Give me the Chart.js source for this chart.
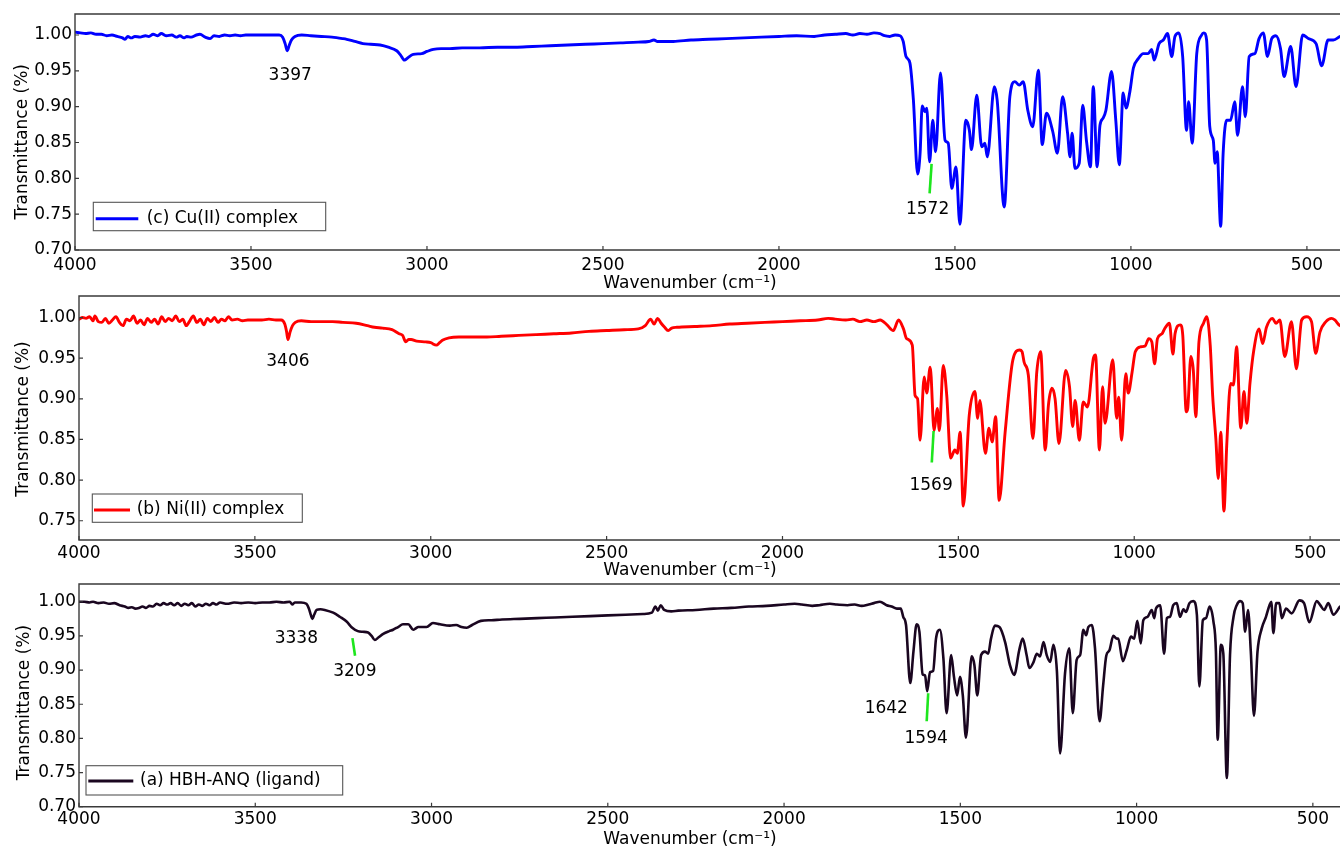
<!DOCTYPE html>
<html>
<head>
<meta charset="utf-8">
<title>FT-IR spectra</title>
<script src="https://cdn.jsdelivr.net/npm/chart.js@4.4.1/dist/chart.umd.min.js"></script>
<style>
  html, body { margin: 0; padding: 0; background: #ffffff; overflow: hidden; }
  #wrap { position: relative; width: 1340px; height: 850px; }
  #wrap canvas { position: absolute; left: 0; top: 0; }
</style>
</head>
<body>
<div id="wrap">
  <canvas id="cu" width="1340" height="850"></canvas>
  <canvas id="ni" width="1340" height="850"></canvas>
  <canvas id="lig" width="1340" height="850"></canvas>
</div>
<script>
// ---------- spectra: wavenumber (cm-1) and transmittance ----------
const cuWavenumber = [4000,3985,3970,3955,3940,3925,3910,3895,3880,3865,3858,3850,3840,3830,3815,3800,3790,3778,3765,3755,3740,3725,3712,3702,3690,3682,3670,3655,3645,3630,3616,3605,3590,3575,3560,3545,3530,3515,3500,3480,3460,3440,3420,3410,3403,3397,3391,3385,3375,3356,3330,3300,3270,3240,3228,3205,3182,3160,3133,3110,3086,3075,3064,3055,3039,3015,3000,2982,2960,2935,2900,2850,2800,2750,2700,2650,2600,2550,2500,2450,2400,2370,2355,2345,2320,2300,2250,2200,2150,2100,2050,2000,1950,1900,1870,1840,1810,1790,1770,1750,1730,1713,1700,1685,1670,1656,1647,1639,1628,1618,1606,1599,1593,1585,1580,1572,1563,1555,1541,1528,1519,1509,1497,1486,1469,1459,1453,1438,1424,1415,1408,1388,1380,1360,1344,1330,1317,1306,1293,1279,1263,1252,1240,1222,1209,1194,1180,1173,1167,1159,1147,1137,1126,1115,1107,1096,1088,1079,1071,1055,1043,1033,1022,1014,1003,993,979,965,951,941,934,920,908,896,884,875,864,853,842,836,826,813,799,793,785,776,766,761,755,745,738,728,717,705,697,683,675,664,648,636,624,612,600,588,575,565,546,531,512,496,474,458,440,425,406];
const cuTransmittance = [1.004,1.003,1.002,1.003,1.001,1.001,0.999,1.000,0.998,0.996,0.994,0.998,0.996,0.998,0.997,0.999,0.998,1.001,0.999,1.002,0.999,1.000,0.997,0.999,0.996,0.998,0.997,1.000,1.001,0.997,0.995,0.999,0.998,1.000,0.999,1.000,0.999,1.000,1.000,1.000,1.000,1.000,1.000,0.997,0.988,0.978,0.986,0.993,0.998,1.000,0.999,0.998,0.997,0.995,0.994,0.991,0.988,0.987,0.986,0.983,0.978,0.972,0.965,0.968,0.973,0.974,0.977,0.980,0.981,0.981,0.982,0.982,0.983,0.983,0.984,0.985,0.986,0.987,0.988,0.989,0.990,0.991,0.993,0.991,0.991,0.991,0.993,0.994,0.995,0.996,0.997,0.998,0.999,0.998,1.000,1.001,1.002,1.000,1.002,1.001,1.003,1.002,0.999,0.998,1.000,0.999,0.991,0.970,0.961,0.909,0.806,0.835,0.901,0.893,0.898,0.823,0.881,0.837,0.947,0.853,0.849,0.786,0.816,0.736,0.881,0.867,0.840,0.916,0.844,0.849,0.830,0.928,0.909,0.760,0.914,0.935,0.930,0.935,0.895,0.872,0.951,0.847,0.891,0.865,0.835,0.914,0.863,0.830,0.863,0.814,0.821,0.902,0.851,0.816,0.928,0.816,0.874,0.884,0.895,0.949,0.881,0.819,0.919,0.898,0.921,0.954,0.967,0.974,0.974,0.980,0.965,0.988,0.993,1.002,0.970,0.998,1.003,0.970,0.867,0.907,0.849,0.974,1.000,1.003,0.993,0.872,0.853,0.821,0.837,0.733,0.835,0.881,0.881,0.907,0.860,0.928,0.886,0.970,0.974,0.995,1.003,0.970,0.995,0.999,0.981,0.942,0.984,0.928,1.000,0.995,0.988,0.957,0.993,0.993,0.998];

const niWavenumber = [4000,3990,3980,3970,3960,3955,3945,3935,3925,3915,3905,3895,3885,3875,3865,3855,3845,3835,3825,3815,3805,3795,3785,3775,3765,3755,3745,3735,3725,3715,3705,3695,3685,3675,3665,3655,3645,3635,3625,3615,3605,3595,3585,3575,3565,3550,3535,3520,3500,3480,3460,3440,3425,3415,3410,3406,3400,3393,3385,3368,3340,3310,3279,3250,3212,3180,3160,3137,3110,3090,3080,3071,3063,3056,3040,3014,3000,2984,2975,2967,2948,2920,2880,2840,2800,2750,2700,2650,2600,2550,2500,2450,2410,2390,2375,2365,2355,2345,2335,2325,2315,2300,2250,2200,2150,2100,2050,2000,1950,1900,1870,1850,1820,1800,1780,1760,1740,1722,1703,1685,1670,1656,1647,1631,1623,1616,1609,1597,1590,1580,1569,1564,1560,1554,1543,1533,1522,1510,1503,1495,1486,1469,1453,1445,1439,1423,1413,1404,1394,1384,1367,1345,1326,1319,1313,1301,1288,1277,1266,1253,1244,1234,1225,1214,1195,1184,1175,1168,1156,1145,1133,1116,1110,1099,1090,1083,1061,1050,1044,1036,1024,1017,1006,997,981,969,959,950,942,934,921,914,900,890,884,869,862,852,848,839,832,825,816,803,794,784,777,768,761,754,745,737,726,718,709,697,688,680,671,660,645,635,624,607,597,586,572,553,539,524,510,496,484,472,455,439,430,418,415];
const niTransmittance = [0.998,1.000,0.999,1.001,0.996,1.002,0.995,0.994,0.999,0.993,0.997,1.001,0.994,0.990,0.998,0.996,1.002,0.993,0.997,0.991,0.999,0.994,0.998,0.992,1.001,0.995,0.999,0.996,1.002,0.995,0.998,0.990,0.996,1.002,0.994,0.998,0.991,0.999,0.995,1.000,0.994,0.998,0.996,1.001,0.997,0.998,0.996,0.997,0.997,0.997,0.998,0.997,0.997,0.992,0.983,0.973,0.982,0.990,0.994,0.996,0.995,0.995,0.995,0.994,0.993,0.990,0.988,0.987,0.985,0.980,0.978,0.970,0.973,0.973,0.971,0.970,0.969,0.966,0.969,0.972,0.975,0.976,0.976,0.976,0.977,0.978,0.979,0.980,0.981,0.983,0.984,0.985,0.986,0.990,0.998,0.992,0.999,0.993,0.988,0.984,0.987,0.988,0.989,0.990,0.992,0.993,0.994,0.995,0.996,0.997,0.999,0.998,0.997,0.998,0.995,0.997,0.995,0.997,0.991,0.984,0.997,0.986,0.974,0.966,0.904,0.900,0.849,0.927,0.907,0.939,0.861,0.876,0.888,0.861,0.941,0.904,0.827,0.837,0.833,0.859,0.768,0.880,0.909,0.876,0.898,0.833,0.864,0.847,0.878,0.775,0.859,0.948,0.960,0.958,0.945,0.929,0.851,0.933,0.958,0.837,0.892,0.913,0.900,0.845,0.935,0.915,0.866,0.898,0.849,0.896,0.890,0.950,0.954,0.837,0.915,0.870,0.948,0.876,0.902,0.849,0.931,0.907,0.933,0.958,0.964,0.965,0.974,0.970,0.943,0.974,0.980,0.986,0.993,0.955,0.980,0.991,0.978,0.884,0.888,0.952,0.935,0.878,0.970,0.993,1.001,0.966,0.904,0.851,0.802,0.859,0.762,0.843,0.919,0.917,0.964,0.864,0.909,0.870,0.919,0.960,0.986,0.968,0.988,0.999,0.993,0.997,0.952,0.995,0.937,0.997,1.001,0.995,0.956,0.982,0.995,0.999,0.997,0.991,0.990];

const ligWavenumber = [4000,3985,3970,3960,3945,3930,3915,3900,3885,3870,3860,3850,3840,3830,3820,3810,3800,3790,3780,3770,3760,3750,3740,3730,3720,3710,3700,3690,3680,3670,3660,3650,3640,3630,3620,3610,3600,3580,3560,3540,3520,3500,3480,3460,3440,3420,3402,3395,3388,3370,3355,3348,3342,3338,3333,3326,3315,3303,3279,3260,3241,3225,3209,3195,3180,3170,3161,3150,3137,3120,3109,3095,3081,3066,3052,3045,3038,3014,2996,2976,2948,2930,2915,2900,2885,2860,2830,2800,2750,2700,2650,2600,2550,2500,2450,2400,2375,2365,2358,2350,2340,2320,2300,2250,2200,2150,2100,2050,2000,1970,1950,1920,1900,1870,1850,1820,1800,1780,1760,1745,1728,1709,1695,1680,1669,1662,1654,1642,1633,1624,1616,1607,1600,1594,1586,1577,1569,1558,1548,1539,1526,1518,1509,1501,1493,1484,1468,1460,1452,1441,1430,1421,1413,1402,1389,1373,1359,1347,1333,1323,1312,1304,1293,1283,1274,1264,1255,1245,1236,1226,1217,1203,1191,1181,1170,1160,1151,1143,1137,1127,1118,1105,1095,1086,1077,1066,1056,1052,1039,1028,1016,1007,998,988,981,969,957,950,945,933,922,914,905,896,886,877,867,860,850,839,829,822,812,803,793,782,775,770,761,754,744,735,725,716,706,699,692,684,676,667,657,645,633,623,618,612,604,595,588,576,560,538,525,510,489,479,468,456,442,423];
const ligTransmittance = [1.000,1.000,0.999,1.000,0.998,0.999,0.997,0.998,0.995,0.993,0.991,0.992,0.990,0.991,0.993,0.991,0.994,0.993,0.997,0.995,0.998,0.996,0.998,0.995,0.998,0.994,0.997,0.995,0.998,0.993,0.996,0.994,0.997,0.995,0.998,0.996,0.999,0.997,0.999,0.998,0.999,0.998,0.999,0.999,1.000,0.999,1.000,0.996,0.999,0.999,0.997,0.990,0.980,0.975,0.981,0.988,0.989,0.988,0.984,0.978,0.971,0.962,0.957,0.956,0.955,0.950,0.944,0.948,0.953,0.957,0.959,0.963,0.967,0.967,0.959,0.961,0.963,0.963,0.969,0.967,0.965,0.966,0.963,0.962,0.966,0.972,0.973,0.974,0.975,0.976,0.977,0.978,0.979,0.980,0.981,0.982,0.984,0.993,0.987,0.995,0.988,0.986,0.987,0.988,0.990,0.991,0.993,0.994,0.996,0.997,0.996,0.994,0.995,0.997,0.996,0.995,0.996,0.994,0.996,0.998,1.000,0.995,0.993,0.990,0.990,0.978,0.966,0.881,0.927,0.967,0.956,0.894,0.892,0.869,0.897,0.899,0.946,0.959,0.917,0.837,0.922,0.890,0.863,0.890,0.863,0.801,0.920,0.907,0.863,0.922,0.927,0.924,0.946,0.965,0.963,0.941,0.907,0.893,0.929,0.946,0.922,0.903,0.911,0.924,0.920,0.941,0.922,0.912,0.937,0.898,0.778,0.895,0.932,0.837,0.915,0.922,0.959,0.951,0.963,0.966,0.932,0.825,0.877,0.921,0.929,0.950,0.946,0.946,0.913,0.929,0.949,0.946,0.972,0.939,0.973,0.978,0.988,0.976,0.990,0.995,0.924,0.976,0.978,0.995,0.998,0.978,0.989,0.985,0.998,1.001,0.981,0.876,0.973,0.976,0.993,0.971,0.927,0.798,0.937,0.924,0.742,0.922,0.978,0.995,1.001,0.998,0.956,0.988,0.927,0.833,0.927,0.961,0.978,0.995,1.000,0.954,0.998,0.998,0.976,0.990,0.983,1.002,0.998,0.970,1.001,0.995,0.988,0.998,0.981,0.993];

// ---------- tick values and labelled bands ----------
const wavenumberTicks = [4000, 3500, 3000, 2500, 2000, 1500, 1000, 500];
const cuTicks = [0.70, 0.75, 0.80, 0.85, 0.90, 0.95, 1.00];
const niTicks = [0.75, 0.80, 0.85, 0.90, 0.95, 1.00];
const ligTicks = [0.70, 0.75, 0.80, 0.85, 0.90, 0.95, 1.00];

const cuBands = [3397, 1572];
const niBands = [3406, 1569];
const ligBands = [3338, 3209, 1642, 1594];

// ---------- drawing setup ----------
const FONT_FAMILY = "'DejaVu Sans', 'Liberation Sans', sans-serif";
const FONT_SIZE = 17;
const FONT = FONT_SIZE + "px " + FONT_FAMILY;
const X_TITLE = "Wavenumber (cm\u207B\u00B9)";
const Y_TITLE = "Transmittance (%)";

const panels = [
  {
    canvas: 'cu', label: '(c) Cu(II) complex', color: '#0000ff', width: 2.9,
    wn: cuWavenumber, t: cuTransmittance, yTicks: cuTicks, bands: cuBands,
    area: { left: 75, top: 14, bottom: 250 }, xMin: 406, yMin: 0.70, yMax: 1.0293, tickPad: 5.5,
    legend: { x: 93.3, y: 202.3, w: 232.4, h: 28.4, lx1: 95.7, lx2: 138.3, ly: 218.7, tx: 146.7 },
    yTitle: { x: 23, y: 141.7 }, xTitle: { x: 690, y: 284 },
    marks: { 3397: { text: [3, 25] }, 1572: { line: [2, 2, 0, 31.5], text: [-2, 48] } }
  },
  {
    canvas: 'ni', label: '(b) Ni(II) complex', color: '#ff0000', width: 2.9,
    wn: niWavenumber, t: niTransmittance, yTicks: niTicks, bands: niBands,
    area: { left: 79, top: 296, bottom: 540 }, xMin: 415, yMin: 0.7263, yMax: 1.0265, tickPad: 3,
    legend: { x: 92.3, y: 494, w: 210, h: 28.3, lx1: 94, lx2: 130, ly: 510, tx: 136.7 },
    yTitle: { x: 23.5, y: 419 }, xTitle: { x: 690, y: 571 },
    marks: { 3406: { text: [0, 22] }, 1569: { line: [-0.5, 0.5, -2.3, 32], text: [-3, 55] } }
  },
  {
    canvas: 'lig', label: '(a) HBH-ANQ (ligand)', color: '#1a0620', width: 2.6,
    wn: ligWavenumber, t: ligTransmittance, yTicks: ligTicks, bands: ligBands,
    area: { left: 79, top: 584, bottom: 806.7 }, xMin: 423, yMin: 0.70, yMax: 1.026, tickPad: 3,
    legend: { x: 86, y: 765.7, w: 256.7, h: 29.3, lx1: 88.3, lx2: 133.3, ly: 781, tx: 140 },
    yTitle: { x: 25, y: 702.6 }, xTitle: { x: 690, y: 840 },
    marks: {
      3338: { text: [-16, 20] },
      3209: { line: [-5.4, 7, -2.8, 24.6], text: [-3, 40] },
      1642: { text: [-24, 26] },
      1594: { line: [1, 2, -0.5, 30], text: [-1, 47] }
    }
  }
];

// Frame, inner ticks, boxed legend, band labels and axis titles
const panelDecor = {
  id: 'panelDecor',
  afterDraw(chart, args, opts) {
    const p = opts.panel;
    const ctx = chart.ctx;
    const a = chart.chartArea;
    const xs = chart.scales.x, ys = chart.scales.y;
    ctx.save();

    // frame
    ctx.strokeStyle = '#3a3a3a';
    ctx.lineWidth = 1.4;
    ctx.beginPath();
    ctx.moveTo(a.right + 2, a.top); ctx.lineTo(a.left, a.top);
    ctx.lineTo(a.left, a.bottom); ctx.lineTo(a.right + 2, a.bottom);
    ctx.stroke();

    // inward tick marks
    ctx.lineWidth = 1.2;
    ctx.beginPath();
    wavenumberTicks.forEach(v => {
      const px = xs.getPixelForValue(v);
      ctx.moveTo(px, a.bottom); ctx.lineTo(px, a.bottom - 4);
    });
    p.yTicks.forEach(v => {
      const py = ys.getPixelForValue(v);
      ctx.moveTo(a.left, py); ctx.lineTo(a.left + 4, py);
    });
    ctx.stroke();

    // boxed legend
    const L = p.legend;
    ctx.fillStyle = '#ffffff';
    ctx.fillRect(L.x, L.y, L.w, L.h);
    ctx.strokeStyle = '#555555';
    ctx.lineWidth = 1.1;
    ctx.strokeRect(L.x, L.y, L.w, L.h);
    ctx.strokeStyle = p.color;
    ctx.lineWidth = 3;
    ctx.beginPath(); ctx.moveTo(L.lx1, L.ly); ctx.lineTo(L.lx2, L.ly); ctx.stroke();
    ctx.fillStyle = '#000000';
    ctx.font = FONT;
    ctx.textAlign = 'left';
    ctx.textBaseline = 'middle';
    ctx.fillText(p.label, L.tx, L.ly);

    // band labels
    p.bands.forEach(b => {
      let idx = 0;
      p.wn.forEach((w, i) => { if (Math.abs(w - b) < Math.abs(p.wn[idx] - b)) idx = i; });
      const ax = xs.getPixelForValue(b);
      const ay = ys.getPixelForValue(p.t[idx]);
      const m = p.marks[b];
      if (m.line) {
        ctx.strokeStyle = '#1ee61e';
        ctx.lineWidth = 2.6;
        ctx.beginPath();
        ctx.moveTo(ax + m.line[0], ay + m.line[1]);
        ctx.lineTo(ax + m.line[2], ay + m.line[3]);
        ctx.stroke();
      }
      ctx.fillStyle = '#000000';
      ctx.textAlign = 'center';
      ctx.textBaseline = 'middle';
      ctx.fillText(String(b), ax + m.text[0], ay + m.text[1]);
    });

    // axis titles
    ctx.fillStyle = '#000000';
    ctx.textAlign = 'center';
    ctx.textBaseline = 'middle';
    ctx.fillText(X_TITLE, p.xTitle.x, p.xTitle.y);
    ctx.translate(p.yTitle.x, p.yTitle.y);
    ctx.rotate(-Math.PI / 2);
    ctx.fillText(Y_TITLE, 0, 0);
    ctx.restore();
  }
};

Chart.defaults.font.family = FONT_FAMILY;
Chart.defaults.font.size = FONT_SIZE;
Chart.defaults.color = '#000000';

const X_AXIS_HEIGHT = 40;

panels.forEach(p => {
  const points = p.wn.map((w, i) => ({ x: w, y: p.t[i] }));
  new Chart(document.getElementById(p.canvas), {
    type: 'line',
    data: {
      datasets: [{
        label: p.label,
        data: points,
        borderColor: p.color,
        borderWidth: p.width,
        pointRadius: 0,
        fill: false,
        cubicInterpolationMode: 'monotone',
        borderJoinStyle: 'round',
        borderCapStyle: 'round'
      }]
    },
    options: {
      responsive: false,
      animation: false,
      devicePixelRatio: 1,
      layout: { padding: { left: 0, right: 0, top: p.area.top, bottom: 850 - p.area.bottom - X_AXIS_HEIGHT } },
      plugins: {
        legend: { display: false },
        tooltip: { enabled: false },
        panelDecor: { panel: p }
      },
      scales: {
        x: {
          type: 'linear', reverse: true, min: p.xMin, max: 4000,
          afterFit(s) { s.height = X_AXIS_HEIGHT; },
          afterBuildTicks(s) { s.ticks = wavenumberTicks.map(v => ({ value: v })); },
          grid: { display: false, drawTicks: false },
          border: { display: false },
          ticks: { padding: p.tickPad, maxRotation: 0, autoSkip: false, color: '#000', callback: v => String(v) }
        },
        y: {
          type: 'linear', min: p.yMin, max: p.yMax,
          afterFit(s) { s.width = p.area.left; },
          afterBuildTicks(s) { s.ticks = p.yTicks.map(v => ({ value: v })); },
          grid: { display: false, drawTicks: false },
          border: { display: false },
          ticks: { padding: 3, autoSkip: false, color: '#000', callback: v => Number(v).toFixed(2) }
        }
      }
    },
    plugins: [panelDecor]
  });
});
</script>
</body>
</html>
